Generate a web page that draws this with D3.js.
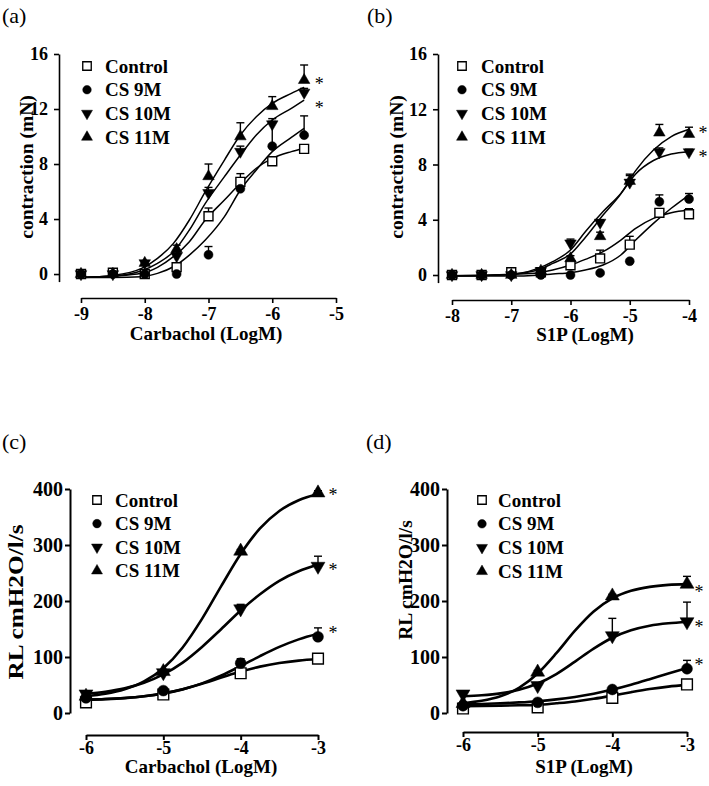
<!DOCTYPE html>
<html>
<head>
<meta charset="utf-8">
<script src="https://cdn.jsdelivr.net/npm/d3@7"></script>
<style>
  body { margin: 0; background: #fff; }
  svg { display: block; font-family: "Liberation Serif", "Times New Roman", serif; }
</style>
</head>
<body>
<svg id="chart" width="709" height="786"></svg>
<script>
const seriesNames = ['Control', 'CS 9M', 'CS 10M', 'CS 11M'];

// (a) carbachol, contraction
const aX = [-9, -8.5, -8, -7.5, -7, -6.5, -6, -5.5];
const aControl = [0, 0.1, 0, 0.5, 4.2, 6.7, 8.2, 9.1];
const aCS9M = [0, 0, 0, 0, 1.4, 6.2, 9.3, 10.1];
const aCS10M = [0, 0, 0.8, 1.3, 5.9, 8.9, 10.9, 13.2];
const aCS11M = [0, 0, 0.8, 1.8, 7.1, 10.0, 12.2, 14.1];
const aControlErr = [0, 0, 0, 0.2, 0.6, 0.6, 0.3, 0.2];
const aCS9MErr = [0, 0, 0, 0, 0.6, 0.3, 1.8, 1.4];
const aCS10MErr = [0, 0, 0, 0.3, 0.4, 0.4, 0.4, 0.3];
const aCS11MErr = [0, 0, 0, 0.3, 0.9, 1.0, 0.7, 1.1];
const aFitX = [-9, -8.5, -8.05, -7.8, -7.55, -7.3, -7.05, -6.75, -6.5, -6.25, -6, -5.7, -5.5];
const aFitControl = [-0.25, -0.15, 0.05, 0.49, 1.26, 2.35, 3.93, 5.38, 6.6, 7.69, 8.41, 8.9, 9.15];
const aFitCS9M = [-0.25, -0.25, -0.19, 0.05, 0.53, 1.38, 2.47, 4.17, 6.11, 7.56, 8.9, 9.94, 10.6];
const aFitCS10M = [-0.25, -0.15, 0.24, 0.78, 1.62, 3.2, 5.14, 7.08, 8.65, 10.11, 11.2, 12.05, 12.65];
const aFitCS11M = [-0.25, -0.1, 0.41, 1.14, 2.23, 3.93, 5.99, 8.29, 10.11, 11.44, 12.41, 13.14, 13.58];
const aStars = [14.1, 12.4]; // CS 11M, CS 10M
const aXTicks = [-9, -8, -7, -6, -5];
const aYTicks = [0, 4, 8, 12, 16];

// (b) S1P, contraction
const bX = [-8, -7.5, -7, -6.5, -6, -5.5, -5, -4.5, -4];
const bControl = [0, 0, 0.2, 0.2, 0.7, 1.2, 2.2, 4.5, 4.4];
const bCS9M = [0, 0, 0, 0, 0, 0.15, 1.0, 5.3, 5.5];
const bCS10M = [0, 0, 0, 0.3, 2.3, 3.8, 6.7, 8.9, 8.9];
const bCS11M = [0, 0, 0, 0.3, 1.2, 2.8, 6.8, 10.3, 10.2];
const bControlErr = [0, 0, 0.1, 0, 0.3, 0.6, 0.6, 0.3, 0.4];
const bCS9MErr = [0, 0, 0, 0, 0, 0, 0, 0.5, 0.4];
const bCS10MErr = [0, 0, 0, 0, 0.3, 0.2, 0.6, 0.3, 0.2];
const bCS11MErr = [0, 0, 0, 0, 0.2, 0.3, 0.4, 0.6, 0.5];
const bFitX = [-8, -7.5, -7, -6.85, -6.55, -6.3, -6, -5.75, -5.45, -5.15, -4.9, -4.6, -4.3, -4];
const bFitControl = [-0.05, -0.03, 0.05, 0.07, 0.17, 0.36, 0.72, 1.13, 1.69, 2.53, 3.38, 4.1, 4.51, 4.71];
const bFitCS9M = [-0.07, -0.07, -0.07, -0.07, -0.02, 0.07, 0.17, 0.36, 0.72, 1.45, 2.53, 3.74, 4.83, 5.79];
const bFitCS10M = [-0.05, -0.03, 0.05, 0.12, 0.48, 0.97, 1.81, 3.13, 4.59, 5.91, 7.32, 8.29, 8.76, 8.93];
const bFitCS11M = [-0.05, -0.03, 0.05, 0.12, 0.36, 0.84, 1.52, 2.72, 4.34, 5.87, 7.56, 9.05, 10.02, 10.55];
const bStars = [10.6, 8.8];
const bXTicks = [-8, -7, -6, -5, -4];
const bYTicks = [0, 4, 8, 12, 16];

// (c) carbachol, RL
const cX = [-6, -5, -4, -3];
const cControl = [19, 33, 71, 97];
const cCS9M = [27, 40, 89, 136];
const cCS10M = [34, 72, 186, 262];
const cCS11M = [30, 74, 289, 393];
const cControlErr = [3, 3, 3, 4];
const cCS9MErr = [3, 3, 8, 16];
const cCS10MErr = [5, 4, 8, 18];
const cCS11MErr = [3, 3, 3, 4];
const cFitX = [-6, -5.75, -5.5, -5.25, -5, -4.75, -4.5, -4.25, -4, -3.75, -3.5, -3.25, -3];
const cFitControl = [23.5, 24.7, 26.6, 29.9, 35, 42.4, 52.2, 63.2, 74, 82.8, 89.3, 93.6, 96.3];
const cFitCS9M = [23.8, 24.9, 26.8, 29.9, 34.8, 42.2, 52.9, 67, 83.9, 101.6, 118, 131.5, 141.5];
const cFitCS10M = [34, 38, 44, 54, 69, 90, 118, 150, 183, 212, 236, 253, 265];
const cFitCS11M = [30, 34.4, 42.4, 56.4, 80, 117, 168, 227, 284, 329.5, 360.7, 380, 391];
const cStars = [396, 262, 150];
const cXTicks = [-6, -5, -4, -3];
const cYTicks = [0, 100, 200, 300, 400];

// (d) S1P, RL
const dX = [-6, -5, -4, -3];
const dControl = [8, 10, 27, 51];
const dCS9M = [13, 19, 42, 79];
const dCS10M = [34, 49, 138, 163];
const dCS11M = [17, 73, 209, 230];
const dControlErr = [2, 2, 3, 4];
const dCS9MErr = [2, 2, 3, 15];
const dCS10MErr = [3, 3, 31, 35];
const dCS11MErr = [2, 3, 3, 14];
const dFitX = [-6, -5.75, -5.5, -5.25, -5, -4.75, -4.5, -4.25, -4, -3.75, -3.5, -3.25, -3];
const dFitControl = [12.3, 12.6, 13.1, 13.8, 14.5, 17.3, 20.6, 25.3, 31, 37.2, 42.8, 47.1, 50.2];
const dFitCS9M = [15.5, 16.2, 17.3, 18.9, 21.1, 24.3, 28.7, 34.4, 41.8, 50.6, 60.4, 70.6, 80.2];
const dFitCS10M = [29.9, 31.7, 35.1, 41.5, 52.6, 69.6, 91.8, 115, 134.4, 147.7, 155.8, 160.2, 162.6];
const dFitCS11M = [17.8, 21.8, 29.9, 45, 70.6, 106.8, 147.1, 181.4, 204.7, 218.2, 225.2, 228.8, 230.2];
const dStars = [223, 161, 93];
const dXTicks = [-6, -5, -4, -3];
const dYTicks = [0, 100, 200, 300, 400];

const svg = d3.select('#chart');

const panels = [
  {
    label: '(a)', labelPos: [2, 23],
    x: aX, values: [aControl, aCS9M, aCS10M, aCS11M], errs: [aControlErr, aCS9MErr, aCS10MErr, aCS11MErr],
    fitX: aFitX, fits: [aFitControl, aFitCS9M, aFitCS10M, aFitCS11M], stars: aStars, starDx: 15,
    xDomain: [-9, -5], xRange: [81, 336], yDomain: [-0.55, 16], yRange: [281.6, 54],
    yAxisX: 59, xAxisY: 298, xTicks: aXTicks, yTicks: aYTicks,
    xTitle: 'Carbachol (LogM)', xTitlePos: [206, 340],
    yTitle: 'contraction (mN)', yTitlePos: [33, 167],
    legend: [87, 105, 66, 23.7], heavy: false
  },
  {
    label: '(b)', labelPos: [367, 23],
    x: bX, values: [bControl, bCS9M, bCS10M, bCS11M], errs: [bControlErr, bCS9MErr, bCS10MErr, bCS11MErr],
    fitX: bFitX, fits: [bFitControl, bFitCS9M, bFitCS10M, bFitCS11M], stars: bStars, starDx: 14,
    xDomain: [-8, -4], xRange: [452, 689], yDomain: [-0.55, 16], yRange: [282.6, 54],
    yAxisX: 438, xAxisY: 300, xTicks: bXTicks, yTicks: bYTicks,
    xTitle: 'S1P (LogM)', xTitlePos: [585, 341],
    yTitle: 'contraction (mN)', yTitlePos: [403, 167],
    legend: [462, 481, 66, 23.7], heavy: false
  },
  {
    label: '(c)', labelPos: [2, 449],
    x: cX, values: [cControl, cCS9M, cCS10M, cCS11M], errs: [cControlErr, cCS9MErr, cCS10MErr, cCS11MErr],
    fitX: cFitX, fits: [cFitControl, cFitCS9M, cFitCS10M, cFitCS11M], stars: cStars, starDx: 15,
    xDomain: [-6, -3], xRange: [86, 318], yDomain: [0, 400], yRange: [713, 489],
    yAxisX: 70, xAxisY: 735, xTicks: cXTicks, yTicks: cYTicks,
    xTitle: 'Carbachol (LogM)', xTitlePos: [201, 773],
    yTitle: 'RL cmH2O/l/s', yTitlePos: [23, 602], yTitleLen: 155,
    legend: [97, 115, 500, 23.6], heavy: true
  },
  {
    label: '(d)', labelPos: [366, 449],
    x: dX, values: [dControl, dCS9M, dCS10M, dCS11M], errs: [dControlErr, dCS9MErr, dCS10MErr, dCS11MErr],
    fitX: dFitX, fits: [dFitControl, dFitCS9M, dFitCS10M, dFitCS11M], stars: dStars, starDx: 12,
    xDomain: [-6, -3], xRange: [463, 687], yDomain: [0, 400], yRange: [713, 489],
    yAxisX: 447, xAxisY: 732, xTicks: dXTicks, yTicks: dYTicks,
    xTitle: 'S1P (LogM)', xTitlePos: [584, 773],
    yTitle: 'RL cmH2O/l/s', yTitlePos: [412, 580],
    legend: [482, 498, 500, 23.8], heavy: true
  }
];

function markerPath(i, big) {
  const k = big ? 1.45 : 1;
  if (i === 0) return d3.symbol().type(d3.symbolSquare).size(80 * k)();
  if (i === 1) return d3.symbol().type(d3.symbolCircle).size(64 * k)();
  return d3.symbol().type(d3.symbolTriangle).size(58 * k)();
}

function drawMarker(g, i, cx, cy, big) {
  return g.append('path')
    .attr('d', markerPath(i, big))
    .attr('transform', `translate(${cx},${cy})` + (i === 2 ? ' rotate(180)' : ''))
    .attr('fill', i === 0 ? '#fff' : '#000')
    .attr('stroke', '#000')
    .attr('stroke-width', i === 0 ? 1.4 : 0.5);
}

panels.forEach(p => {
  const g = svg.append('g');
  const x = d3.scaleLinear().domain(p.xDomain).range(p.xRange);
  const y = d3.scaleLinear().domain(p.yDomain).range(p.yRange);
  const lw = p.heavy ? 2.6 : 1.5;

  g.append('text')
    .attr('x', p.labelPos[0]).attr('y', p.labelPos[1])
    .attr('font-size', 22)
    .text(p.label);

  // axes
  const yAxis = g.append('g')
    .attr('transform', `translate(${p.yAxisX},0)`)
    .call(d3.axisLeft(y).tickValues(p.yTicks).tickSize(5).tickSizeOuter(0)
      .tickPadding(p.heavy ? 2 : 6));
  const xAxis = g.append('g')
    .attr('transform', `translate(0,${p.xAxisY})`)
    .call(d3.axisBottom(x).tickValues(p.xTicks).tickSize(5).tickSizeOuter(0)
      .tickPadding(p.heavy ? 1 : 4).tickFormat(d3.format('d')));
  [yAxis, xAxis].forEach(a => {
    a.selectAll('path, line').attr('stroke', '#000').attr('stroke-width', p.heavy ? 2 : 1.6);
    a.selectAll('text')
      .attr('fill', '#000')
      .attr('font-family', '"Liberation Serif", serif')
      .attr('font-weight', 'bold')
      .attr('font-size', 18);
  });
  if (p.heavy) yAxis.selectAll('text').attr('font-size', 20);
  xAxis.selectAll('text').text(d => d < 0 ? '-' + Math.abs(d) : d);

  g.append('text')
    .attr('x', p.xTitlePos[0]).attr('y', p.xTitlePos[1])
    .attr('text-anchor', 'middle')
    .attr('font-weight', 'bold').attr('font-size', 19)
    .text(p.xTitle);

  const yt = g.append('text')
    .attr('transform', `translate(${p.yTitlePos[0]},${p.yTitlePos[1]}) rotate(-90)`)
    .attr('text-anchor', 'middle')
    .attr('font-weight', 'bold').attr('font-size', p.yTitleLen ? 22 : 19.5)
    .text(p.yTitle);
  if (p.yTitleLen) yt.attr('textLength', p.yTitleLen).attr('lengthAdjust', 'spacingAndGlyphs');

  // fitted curves
  const line = d3.line()
    .x(d => x(d[0]))
    .y(d => y(d[1]))
    .curve(d3.curveMonotoneX);
  p.fits.forEach(f => {
    g.append('path')
      .attr('d', line(p.fitX.map((v, j) => [v, f[j]])))
      .attr('fill', 'none')
      .attr('stroke', '#000')
      .attr('stroke-width', lw);
  });

  // error bars (upper only) then points
  p.values.forEach((vals, i) => {
    vals.forEach((v, j) => {
      const e = p.errs[i][j];
      if (!e) return;
      const cx = x(p.x[j]);
      g.append('line')
        .attr('x1', cx).attr('x2', cx)
        .attr('y1', y(v)).attr('y2', y(v + e))
        .attr('stroke', '#000').attr('stroke-width', 1.4);
      g.append('line')
        .attr('x1', cx - 4).attr('x2', cx + 4)
        .attr('y1', y(v + e)).attr('y2', y(v + e))
        .attr('stroke', '#000').attr('stroke-width', 1.4);
    });
  });
  p.values.forEach((vals, i) => {
    vals.forEach((v, j) => drawMarker(g, i, x(p.x[j]), y(v), p.heavy));
  });

  // significance stars
  const lastX = x(p.x[p.x.length - 1]);
  p.stars.forEach(v => {
    g.append('text')
      .attr('x', lastX + p.starDx)
      .attr('y', y(v) + 10)
      .attr('text-anchor', 'middle')
      .attr('font-size', 18)
      .text('*');
  });

  // legend
  const [mx, tx, ly, step] = p.legend;
  seriesNames.forEach((name, i) => {
    const cy = ly + i * step;
    const m = drawMarker(g, i, mx, cy, false);
    m.attr('transform', `translate(${mx},${cy}) scale(0.95)` + (i === 2 ? ' rotate(180)' : ''));
    g.append('text')
      .attr('x', tx).attr('y', cy + 6.5)
      .attr('font-weight', 'bold').attr('font-size', 19)
      .text(name);
  });
});
</script>
</body>
</html>
